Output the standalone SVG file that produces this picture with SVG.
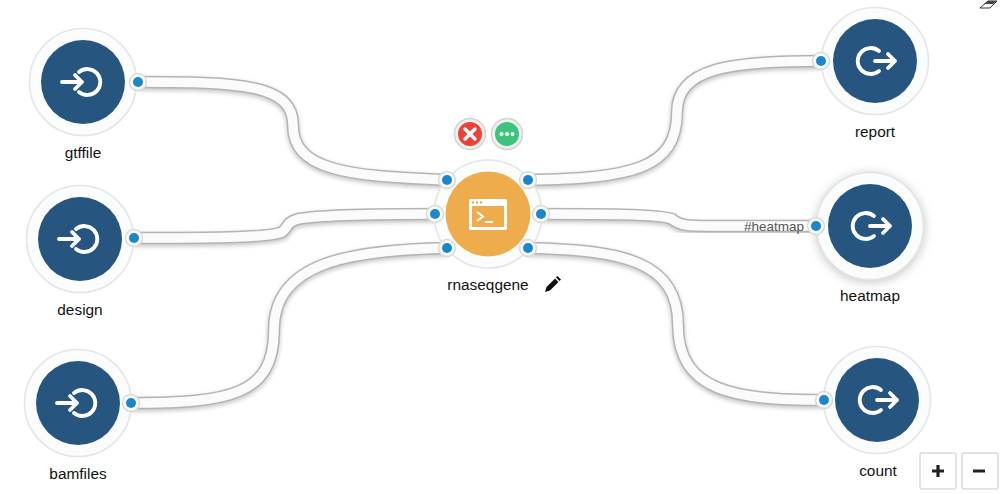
<svg xmlns="http://www.w3.org/2000/svg" width="1000" height="494" viewBox="0 0 1000 494">
<style>
text{font-family:"Liberation Sans",Arial,sans-serif;font-size:15.4px;fill:#111;text-anchor:middle}
.sh{fill:none;stroke:#000;stroke-opacity:.22;stroke-width:13;filter:url(#b)}
.e1{fill:none;stroke:#b4b4b4;stroke-width:12.5}
.e2{fill:none;stroke:#fafbfb;stroke-width:9.5}
.halo{fill:#fbfcfc;stroke:#e4e6e6;stroke-width:1.6}
.in{fill:#26557f}
.ic{fill:none;stroke:#fff;stroke-width:3.8;stroke-linecap:round;stroke-linejoin:round}
.pb{fill:#f9fafa;stroke:#d8dada;stroke-width:1.5}
.pd{fill:#1b86c9}
.btn{fill:#fff;stroke:#dcdcdc;stroke-width:1.5}
</style>
<defs>
<filter id="b" x="-10%" y="-30%" width="120%" height="170%"><feGaussianBlur stdDeviation="2"/></filter>
<filter id="g" x="-30%" y="-30%" width="160%" height="160%"><feGaussianBlur stdDeviation="5"/></filter>
<path id="c1" d="M138 82C240 82 293 84 293 125C293 170 345 176 447 180"/>
<path id="c2" d="M134 238C200 238 270 238 282 232C288 228 286 222 298 219C320 215 380 214 435 214"/>
<path id="c3" d="M131 403C230 403 274 395 274 330C274 262 350 250 447 248"/>
<path id="c4" d="M528 180C630 178 677 170 677 112C677 68 730 61 821 61"/>
<path id="c5" d="M541 214C600 214 660 214 672 219C680 226 690 226 710 226C750 226 790 226 816 226"/>
<path id="c6" d="M528 248C625 250 678 262 678 325C678 392 735 400 824 400"/>
</defs>
<g id="connectors">
<use href="#c1" class="sh" y="2"/><use href="#c2" class="sh" y="2"/><use href="#c3" class="sh" y="2"/><use href="#c4" class="sh" y="2"/><use href="#c5" class="sh" y="2"/><use href="#c6" class="sh" y="2"/>
<use href="#c1" class="e1"/><use href="#c2" class="e1"/><use href="#c3" class="e1"/><use href="#c4" class="e1"/><use href="#c5" class="e1"/><use href="#c6" class="e1"/>
<use href="#c1" class="e2"/><use href="#c2" class="e2"/><use href="#c3" class="e2"/><use href="#c4" class="e2"/><use href="#c5" class="e2"/><use href="#c6" class="e2"/>
</g>
<g id="gtffile">
<circle class="halo" cx="83" cy="82" r="53.5"/><circle class="in" cx="83" cy="82" r="42"/>
<path class="ic" d="M62 82H82M75 75L82 82L75 89M79 72A13 13 0 1 1 79 92"/>
<circle class="pb" cx="138" cy="82" r="8.5"/><circle class="pd" cx="138" cy="82" r="5"/>
<text x="83" y="158">gtffile</text>
</g>
<g id="design">
<circle class="halo" cx="80" cy="239" r="53.5"/><circle class="in" cx="80" cy="239" r="42"/>
<path class="ic" d="M59 239H79M72 232L79 239L72 246M76 229A13 13 0 1 1 76 249"/>
<circle class="pb" cx="134" cy="238" r="8.5"/><circle class="pd" cx="134" cy="238" r="5"/>
<text x="80" y="315">design</text>
</g>
<g id="bamfiles">
<circle class="halo" cx="78" cy="403" r="53.5"/><circle class="in" cx="78" cy="403" r="42"/>
<path class="ic" d="M57 403H77M70 396L77 403L70 410M74 393A13 13 0 1 1 74 413"/>
<circle class="pb" cx="131" cy="403" r="8.5"/><circle class="pd" cx="131" cy="403" r="5"/>
<text x="78" y="479">bamfiles</text>
</g>
<g id="report">
<circle class="halo" cx="875" cy="61" r="53.5"/><circle class="in" cx="875" cy="61" r="42"/>
<path class="ic" d="M879 51A13 13 0 1 0 879 71M875 61H895M888 54L895 61L888 68"/>
<circle class="pb" cx="821" cy="61" r="8.5"/><circle class="pd" cx="821" cy="61" r="5"/>
<text x="875" y="137">report</text>
</g>
<g id="heatmap">
<circle cx="870" cy="228" r="55" fill="#000" fill-opacity=".2" filter="url(#g)"/>
<circle class="halo" cx="870" cy="226" r="53.5"/><circle class="in" cx="870" cy="226" r="42"/>
<path class="ic" d="M874 216A13 13 0 1 0 874 236M870 226H890M883 219L890 226L883 233"/>
<circle class="pb" cx="816" cy="226" r="8.5"/><circle class="pd" cx="816" cy="226" r="5"/>
<text x="774" y="231" style="font-size:13.5px;fill:#555">#heatmap</text>
<text x="870" y="301">heatmap</text>
</g>
<g id="count">
<circle class="halo" cx="877" cy="400" r="53.5"/><circle class="in" cx="877" cy="400" r="42"/>
<path class="ic" d="M881 390A13 13 0 1 0 881 410M877 400H897M890 393L897 400L890 407"/>
<circle class="pb" cx="824" cy="400" r="8.5"/><circle class="pd" cx="824" cy="400" r="5"/>
<text x="878" y="476">count</text>
</g>
<g id="rnaseqgene">
<circle class="halo" cx="488" cy="214" r="54"/><circle cx="488" cy="214" r="42.5" fill="#efac4c"/>
<rect x="469" y="199" width="38" height="31" rx="2" fill="#fff"/>
<rect x="472" y="206" width="32" height="21" fill="#efac4c"/>
<g fill="#efac4c"><circle cx="473" cy="202.500" r="1.200"/><circle cx="477" cy="202.500" r="1.200"/><circle cx="481" cy="202.500" r="1.200"/></g>
<path d="M477 212L483 216.500L477 221M485 222H493" fill="none" stroke="#fff" stroke-width="2"/>
<circle class="pb" cx="447" cy="180" r="8.5"/><circle class="pd" cx="447" cy="180" r="5"/>
<circle class="pb" cx="435" cy="214" r="8.5"/><circle class="pd" cx="435" cy="214" r="5"/>
<circle class="pb" cx="447" cy="248" r="8.5"/><circle class="pd" cx="447" cy="248" r="5"/>
<circle class="pb" cx="528" cy="180" r="8.5"/><circle class="pd" cx="528" cy="180" r="5"/>
<circle class="pb" cx="541" cy="214" r="8.5"/><circle class="pd" cx="541" cy="214" r="5"/>
<circle class="pb" cx="528" cy="248" r="8.5"/><circle class="pd" cx="528" cy="248" r="5"/>
<text x="488" y="290">rnaseqgene</text>
<path d="M545 292L546.500 287L555 278.500L558.500 282L550 290.500ZM556 277.500L557.500 276L561 279.500L559.500 281Z" fill="#111"/>
</g>
<g id="delete">
<circle cx="470" cy="134" r="15.500" fill="#f1f1f1" stroke="#d2d2d2" stroke-width="1.500"/><circle cx="470" cy="134" r="12" fill="#ee4135"/>
<path d="M465 129L475 139M475 129L465 139" stroke="#fff" stroke-width="3.400" stroke-linecap="round"/>
</g>
<g id="more">
<circle cx="507" cy="134" r="15.500" fill="#f1f1f1" stroke="#d2d2d2" stroke-width="1.500"/><circle cx="507" cy="134" r="12" fill="#3cc47c"/>
<g fill="#fff"><circle cx="501.500" cy="134" r="2"/><circle cx="507" cy="134" r="2"/><circle cx="512.500" cy="134" r="2"/></g>
</g>
<g id="controls">
<rect class="btn" x="920" y="453" width="36" height="36" rx="2"/>
<rect class="btn" x="962" y="453" width="36" height="36" rx="2"/>
<path d="M932 471H944M938 465V477M973 471H985" stroke="#222" stroke-width="3.200"/>
<path d="M980 8L988 1H997L990 8Z" fill="#fff" stroke="#333"/><path d="M984 4L988 1H997L993 4Z" fill="#444"/>
</g>
</svg>
